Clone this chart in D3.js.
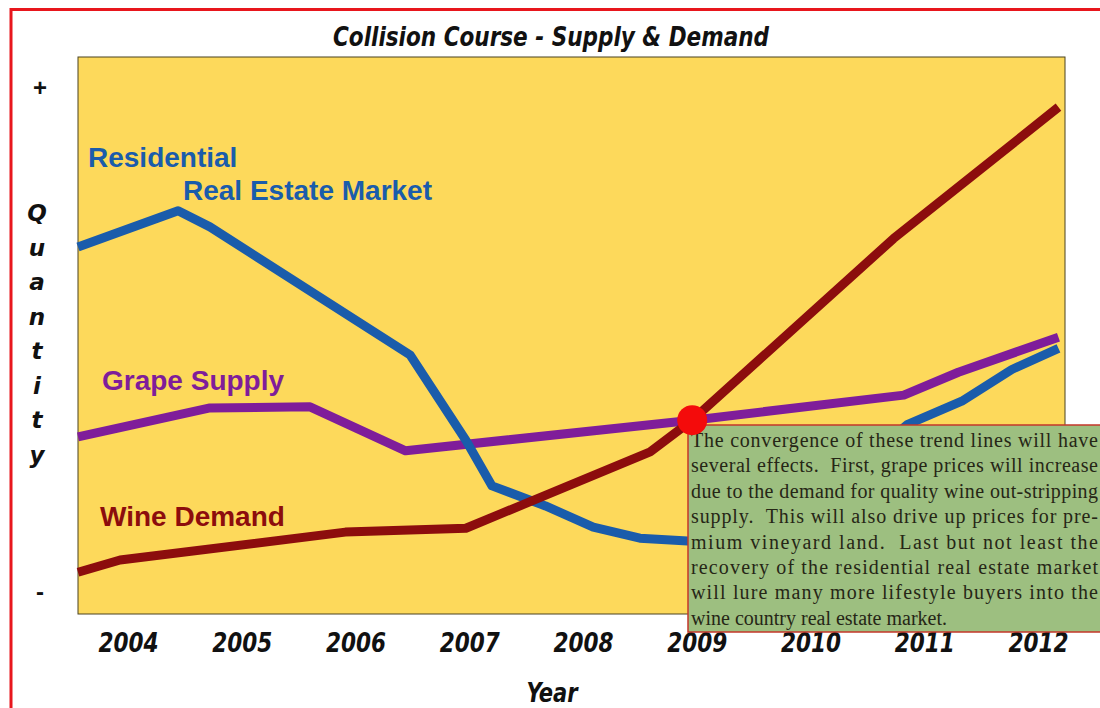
<!DOCTYPE html>
<html>
<head>
<meta charset="utf-8">
<script src="https://cdn.jsdelivr.net/npm/d3@7"></script>
<style>
  body { margin: 0; background: #fff; }
  svg { display: block; }
</style>
</head>
<body>
<div id="chart"></div>
<script>
// Data (x = year, y = relative quantity 0..100)
const years = [2004, 2005, 2006, 2007, 2008, 2009, 2010, 2011, 2012]
const residentialX = [2003.56, 2004.44, 2004.72, 2006.48, 2006.97, 2007.20, 2007.67, 2008.09, 2008.50, 2008.92, 2009.6, 2010.5, 2010.85, 2011.33, 2011.77, 2012.18]
const residentialY = [65.9, 72.4, 69.5, 46.5, 31.2, 23.0, 19.4, 15.6, 13.6, 13.1, 16.0, 28.0, 34.0, 38.2, 43.9, 47.7]
const grapeX = [2003.56, 2004.72, 2005.60, 2006.44, 2008.96, 2010.82, 2011.30, 2012.18]
const grapeY = [31.8, 37.0, 37.2, 29.3, 34.8, 39.3, 43.4, 49.7]
const wineX = [2003.56, 2003.93, 2005.91, 2006.97, 2008.59, 2008.96, 2010.73, 2012.18]
const wineY = [7.5, 9.7, 14.7, 15.4, 29.1, 34.8, 67.4, 91.0]
const yTickValues = [4, 94.4]
const yTickLabels = ["-", "+"]
const crossing = {x: 2008.96, y: 34.8}
const noteLines = [
    "The convergence of these trend lines will have",
    "several effects.  First, grape prices will increase",
    "due to the demand for quality wine out-stripping",
    "supply.  This will also drive up prices for pre-",
    "mium vineyard land.  Last but not least the",
    "recovery of the residential real estate market",
    "will lure many more lifestyle buyers into the",
    "wine country real estate market."
]

const width = 1100
const height = 708
const plot = {left: 78, right: 1065, top: 57, bottom: 614}
const condensed = "'Liberation Sans Narrow', 'DejaVu Sans Condensed', sans-serif"

const svg = d3.select("#chart")
    .append("svg")
    .attr("width", width)
    .attr("height", height)

// red outer frame
svg.append("path")
    .attr("d", `M11,${height} L11,9.5 L${width},9.5`)
    .attr("fill", "none")
    .attr("stroke", "#e8161d")
    .attr("stroke-width", 3)

// scales
const x = d3.scaleLinear()
    .domain([2003.56, 2004 + (plot.right - 128) / 113.75])
    .range([plot.left, plot.right])
const y = d3.scaleLinear()
    .domain([0, 100])
    .range([plot.bottom, plot.top])

// yellow plot background
svg.append("rect")
    .attr("x", plot.left)
    .attr("y", plot.top)
    .attr("width", plot.right - plot.left)
    .attr("height", plot.bottom - plot.top)
    .attr("fill", "#fdd95b")
    .attr("stroke", "#4a4320")
    .attr("stroke-width", 1)

// title
svg.append("text")
    .attr("x", 551)
    .attr("y", 46)
    .attr("text-anchor", "middle")
    .attr("textLength", 436)
    .attr("lengthAdjust", "spacingAndGlyphs")
    .style("font-family", condensed)
    .style("font-weight", "bold")
    .style("font-style", "italic")
    .style("font-size", "26px")
    .attr("fill", "#111")
    .text("Collision Course - Supply & Demand")

// x axis
const xAxis = d3.axisBottom(x)
    .tickValues(years)
    .tickFormat(d3.format("d"))
    .tickSize(0)
    .tickPadding(0)
const xAxisGroup = svg.append("g")
    .attr("transform", `translate(0, 633)`)
    .call(xAxis)
xAxisGroup.select(".domain").remove()
xAxisGroup.selectAll("text")
    .attr("dy", "0.71em")
    .attr("textLength", 60)
    .attr("lengthAdjust", "spacingAndGlyphs")
    .style("font-family", condensed)
    .style("font-weight", "bold")
    .style("font-style", "italic")
    .style("font-size", "27px")
    .attr("fill", "#111")

svg.append("text")
    .attr("x", 552)
    .attr("y", 702)
    .attr("text-anchor", "middle")
    .attr("textLength", 51)
    .attr("lengthAdjust", "spacingAndGlyphs")
    .style("font-family", condensed)
    .style("font-weight", "bold")
    .style("font-style", "italic")
    .style("font-size", "26px")
    .attr("fill", "#111")
    .text("Year")

// y axis: just + and -
const yAxis = d3.axisLeft(y)
    .tickValues(yTickValues)
    .tickFormat((d, i) => yTickLabels[i])
    .tickSize(0)
    .tickPadding(0)
const yAxisGroup = svg.append("g")
    .attr("transform", `translate(47, 0)`)
    .call(yAxis)
yAxisGroup.select(".domain").remove()
yAxisGroup.selectAll("text")
    .attr("text-anchor", "middle")
    .attr("x", -7)
    .style("font-family", "'Liberation Sans', Arial, sans-serif")
    .style("font-weight", "bold")
    .style("font-size", "24px")
    .attr("fill", "#111")

// vertical "Quantity"
svg.append("g").selectAll("text")
    .data("Quantity".split(""))
    .join("text")
    .attr("x", 37)
    .attr("y", (d, i) => 221 + i * 34.5)
    .attr("text-anchor", "middle")
    .style("font-family", "'DejaVu Sans', sans-serif")
    .style("font-weight", "bold")
    .style("font-style", "italic")
    .style("font-size", "23px")
    .attr("fill", "#111")
    .text(d => d)

// lines
const line = d3.line()
    .x(d => x(d[0]))
    .y(d => y(d[1]))

const series = [
    {xs: grapeX, ys: grapeY, color: "#7f1d9a"},
    {xs: residentialX, ys: residentialY, color: "#1a5cab"},
    {xs: wineX, ys: wineY, color: "#8c0d0d"}
]

const linesGroup = svg.append("g")
linesGroup.selectAll("path")
    .data(series)
    .join("path")
    .attr("d", d => line(d.xs.map((v, i) => [v, d.ys[i]])))
    .attr("fill", "none")
    .attr("stroke", d => d.color)
    .attr("stroke-width", 9)
    .attr("stroke-linejoin", "round")

// series labels
const labelStyle = sel => sel
    .style("font-family", "'Liberation Sans', Arial, sans-serif")
    .style("font-weight", "bold")
    .style("font-size", "28px")

svg.append("text").call(labelStyle)
    .attr("x", 88).attr("y", 167).attr("fill", "#1a5cab").text("Residential")
svg.append("text").call(labelStyle)
    .attr("x", 183).attr("y", 200).attr("fill", "#1a5cab").text("Real Estate Market")
svg.append("text").call(labelStyle)
    .attr("x", 102).attr("y", 390).attr("fill", "#7f1d9a").text("Grape Supply")
svg.append("text").call(labelStyle)
    .attr("x", 100).attr("y", 526).attr("fill", "#8c0d0d").text("Wine Demand")

// note box
const box = {x: 688, y: 425, w: 430, h: 207}
svg.append("rect")
    .attr("x", box.x)
    .attr("y", box.y)
    .attr("width", box.w)
    .attr("height", box.h)
    .attr("fill", "#9dbf80")
    .attr("stroke", "#c4372a")
    .attr("stroke-width", 1.5)

svg.append("g").selectAll("text")
    .data(noteLines)
    .join("text")
    .attr("x", 691)
    .attr("y", (d, i) => 447 + i * 25.4)
    .attr("textLength", (d, i) => i < noteLines.length - 1 ? 407 : null)
    .attr("lengthAdjust", "spacing")
    .style("font-family", "'Liberation Serif', 'Times New Roman', serif")
    .style("font-size", "20px")
    .style("white-space", "pre")
    .attr("fill", "#262616")
    .text(d => d)

// crossing point
svg.append("circle")
    .attr("cx", x(crossing.x))
    .attr("cy", y(crossing.y))
    .attr("r", 15)
    .attr("fill", "#f40b0b")
</script>
</body>
</html>
